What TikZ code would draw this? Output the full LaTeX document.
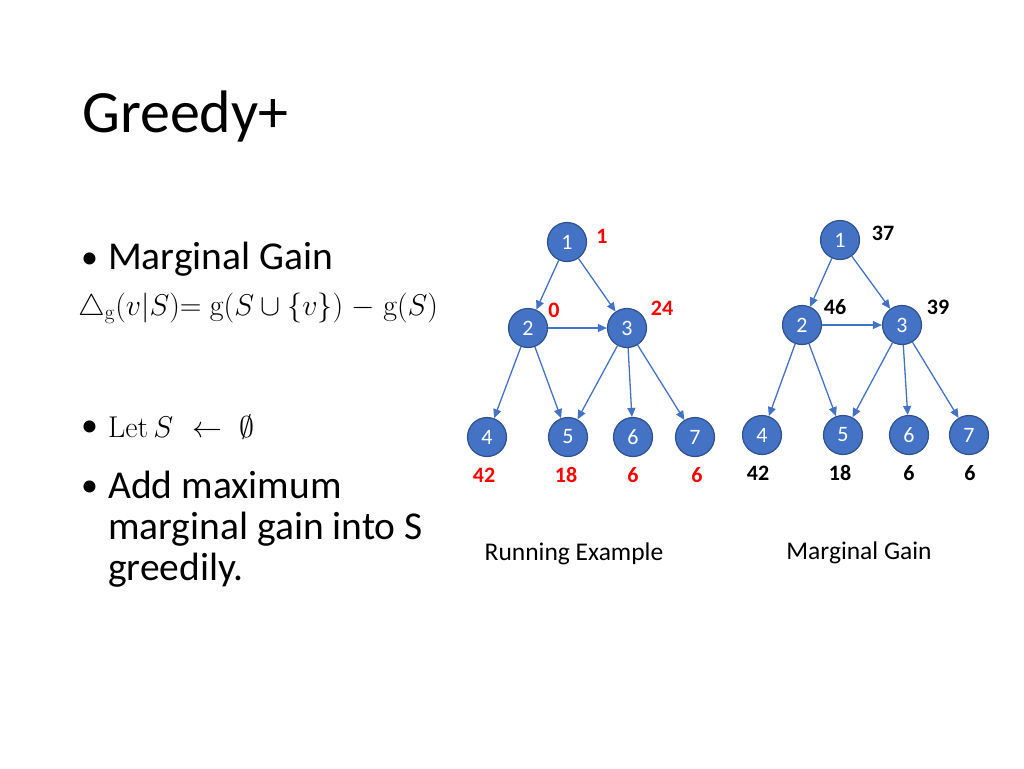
\documentclass[tikz,border=0pt]{standalone}
\usepackage{fix-cm}
\usepackage[no-math]{fontspec}
\setmainfont{Carlito}
\usetikzlibrary{arrows.meta}
\definecolor{vfill}{HTML}{4472C4}
\definecolor{vline}{HTML}{2F528F}
\begin{document}
\begin{tikzpicture}[x=1pt,y=-1pt,
    vtx/.style={circle,draw=vline,line width=1.2pt,fill=vfill,
        minimum size=39pt,inner sep=0pt,text=white,
        font=\fontsize{22}{22}\selectfont},
    arc/.style={draw=vfill,line width=1.3pt,
        -{Triangle[length=9pt,width=8pt]}},
    gain/.style={inner sep=0pt,font=\fontsize{22}{22}\selectfont\bfseries},
    body/.style={anchor=base west,inner sep=0pt,
        font=\fontsize{39.5}{41}\selectfont},
    bullet/.style={anchor=base west,inner sep=0pt,
        font=\fontsize{34}{34}\selectfont},
    caption/.style={anchor=base,inner sep=0pt,
        font=\fontsize{25.5}{25.5}\selectfont}
]
    \useasboundingbox (0,0) rectangle (1024,768);

    \node[anchor=base west,inner sep=0pt,font=\fontsize{60}{60}\selectfont]
        (title) at (82,132) {Greedy+};

    \node[bullet] (dot1) at (81,268) {\textbullet};
    \node[body] (mg) at (108,269) {Marginal Gain};
    \node[anchor=base west,inner sep=0pt,font=\fontsize{30}{30}\selectfont]
        (gdef) at (78,315)
        {$\triangle_{\mathrm{g}}(v|S){=}\;\mathrm{g}(S\cup\{v\})\;{-}\;\mathrm{g}(S)$};
    \node[bullet] (dot2) at (81,436) {\textbullet};
    \node[anchor=base west,inner sep=0pt,font=\fontsize{30}{30}\selectfont]
        (let) at (108,437)
        {$\mathrm{Let}\hspace{5pt}S\hspace{19pt}{\leftarrow}\hspace{17pt}\emptyset$};
    \node[bullet] (dot3) at (81,496) {\textbullet};
    \node[body,align=left] (add) at (108,580)
        {Add maximum\\marginal gain into S\\greedily.};

    % running example
    \node[vtx] (a1) at (567,242) {1};
    \node[vtx] (a2) at (528,328) {2};
    \node[vtx] (a3) at (627,328) {3};
    \node[vtx] (a4) at (487,437) {4};
    \node[vtx] (a5) at (568,437) {5};
    \node[vtx] (a6) at (633,437) {6};
    \node[vtx] (a7) at (695,437) {7};

    \node[gain,red] (ga1) at (602,236) {1};
    \node[gain,red] (ga2) at (554,310) {0};
    \node[gain,red] (ga3) at (662,308) {24};
    \node[gain,red] (ga4) at (484,475) {42};
    \node[gain,red] (ga5) at (566,475) {18};
    \node[gain,red] (ga6) at (633,475) {6};
    \node[gain,red] (ga7) at (697,475) {6};

    % marginal gain
    \node[vtx] (b1) at (840,240) {1};
    \node[vtx] (b2) at (802,325) {2};
    \node[vtx] (b3) at (902,325) {3};
    \node[vtx] (b4) at (762,435) {4};
    \node[vtx] (b5) at (843,435) {5};
    \node[vtx] (b6) at (909,435) {6};
    \node[vtx] (b7) at (969,435) {7};

    \node[gain] (gb1) at (883,233) {37};
    \node[gain] (gb2) at (835,307) {46};
    \node[gain] (gb3) at (938,307) {39};
    \node[gain] (gb4) at (758,473) {42};
    \node[gain] (gb5) at (840,473) {18};
    \node[gain] (gb6) at (909,473) {6};
    \node[gain] (gb7) at (970,473) {6};

    \foreach \g in {a,b}
        \foreach \x/\y in {1/2,1/3,2/3,2/4,2/5,3/5,3/6,3/7}
            \draw[arc] (\g\x)--(\g\y);

    \node[caption] (runcap) at (574,560) {Running Example};
    \node[caption] (mgcap) at (859,559) {Marginal Gain};
\end{tikzpicture}
\end{document}
